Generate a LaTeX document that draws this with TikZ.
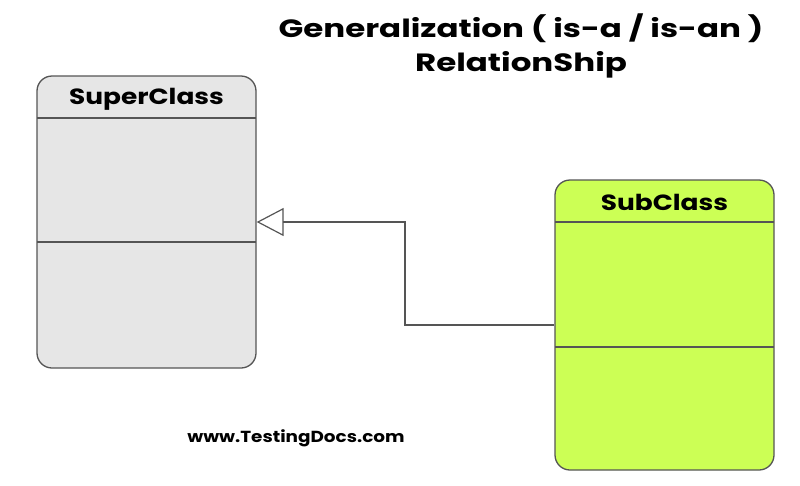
\documentclass[tikz,border=0pt]{standalone}
\usepackage{fontspec}
\setmainfont{Poppins}
\usetikzlibrary{arrows.meta}
\definecolor{edge}{HTML}{555555}
\definecolor{supfill}{HTML}{E6E6E6}
\definecolor{subfill}{HTML}{CCFF55}
\begin{document}
\begin{tikzpicture}[x=1pt,y=-1pt,
  classbox/.style={draw=edge,line width=1.3pt,rounded corners=15pt,minimum width=219pt,minimum height=292pt,inner sep=0pt},
  sep/.style={draw=edge,line width=1.3pt},
  ttl/.style={font=\bfseries\fontsize{25}{28}\selectfont,xscale=1.3},
  lbl/.style={font=\bfseries\fontsize{22}{26}\selectfont,xscale=1.2},
  conn/.style={draw=edge,line width=1.2pt}]
\useasboundingbox (0,0) rectangle (800,485);
\node[classbox,fill=supfill] (super) at (146.5,222) {};
\node[classbox,fill=subfill,minimum height=290pt] (sub) at (664.5,325) {};
\draw[sep] (37,118) -- (256,118);
\draw[sep] (37,242) -- (256,242);
\draw[sep] (555,222) -- (774,222);
\draw[sep] (555,347) -- (774,347);
\node[lbl] (superlbl) at (146.5,99) {SuperClass};
\node[lbl] (sublbl) at (664.5,202) {SubClass};
\node[ttl] (t1) at (521,28) {Generalization ( is-a / is-an )};
\node[ttl] (t2) at (521,65) {RelationShip};
\node[font=\bfseries\fontsize{16}{18}\selectfont,xscale=1.15] (web) at (296,438) {www.TestingDocs.com};
\coordinate (bend) at (405,325);
\draw[conn,-{Triangle[open,length=27pt,width=28pt]}] (sub.west) -- (bend) |- (super.east);
\end{tikzpicture}
\end{document}
